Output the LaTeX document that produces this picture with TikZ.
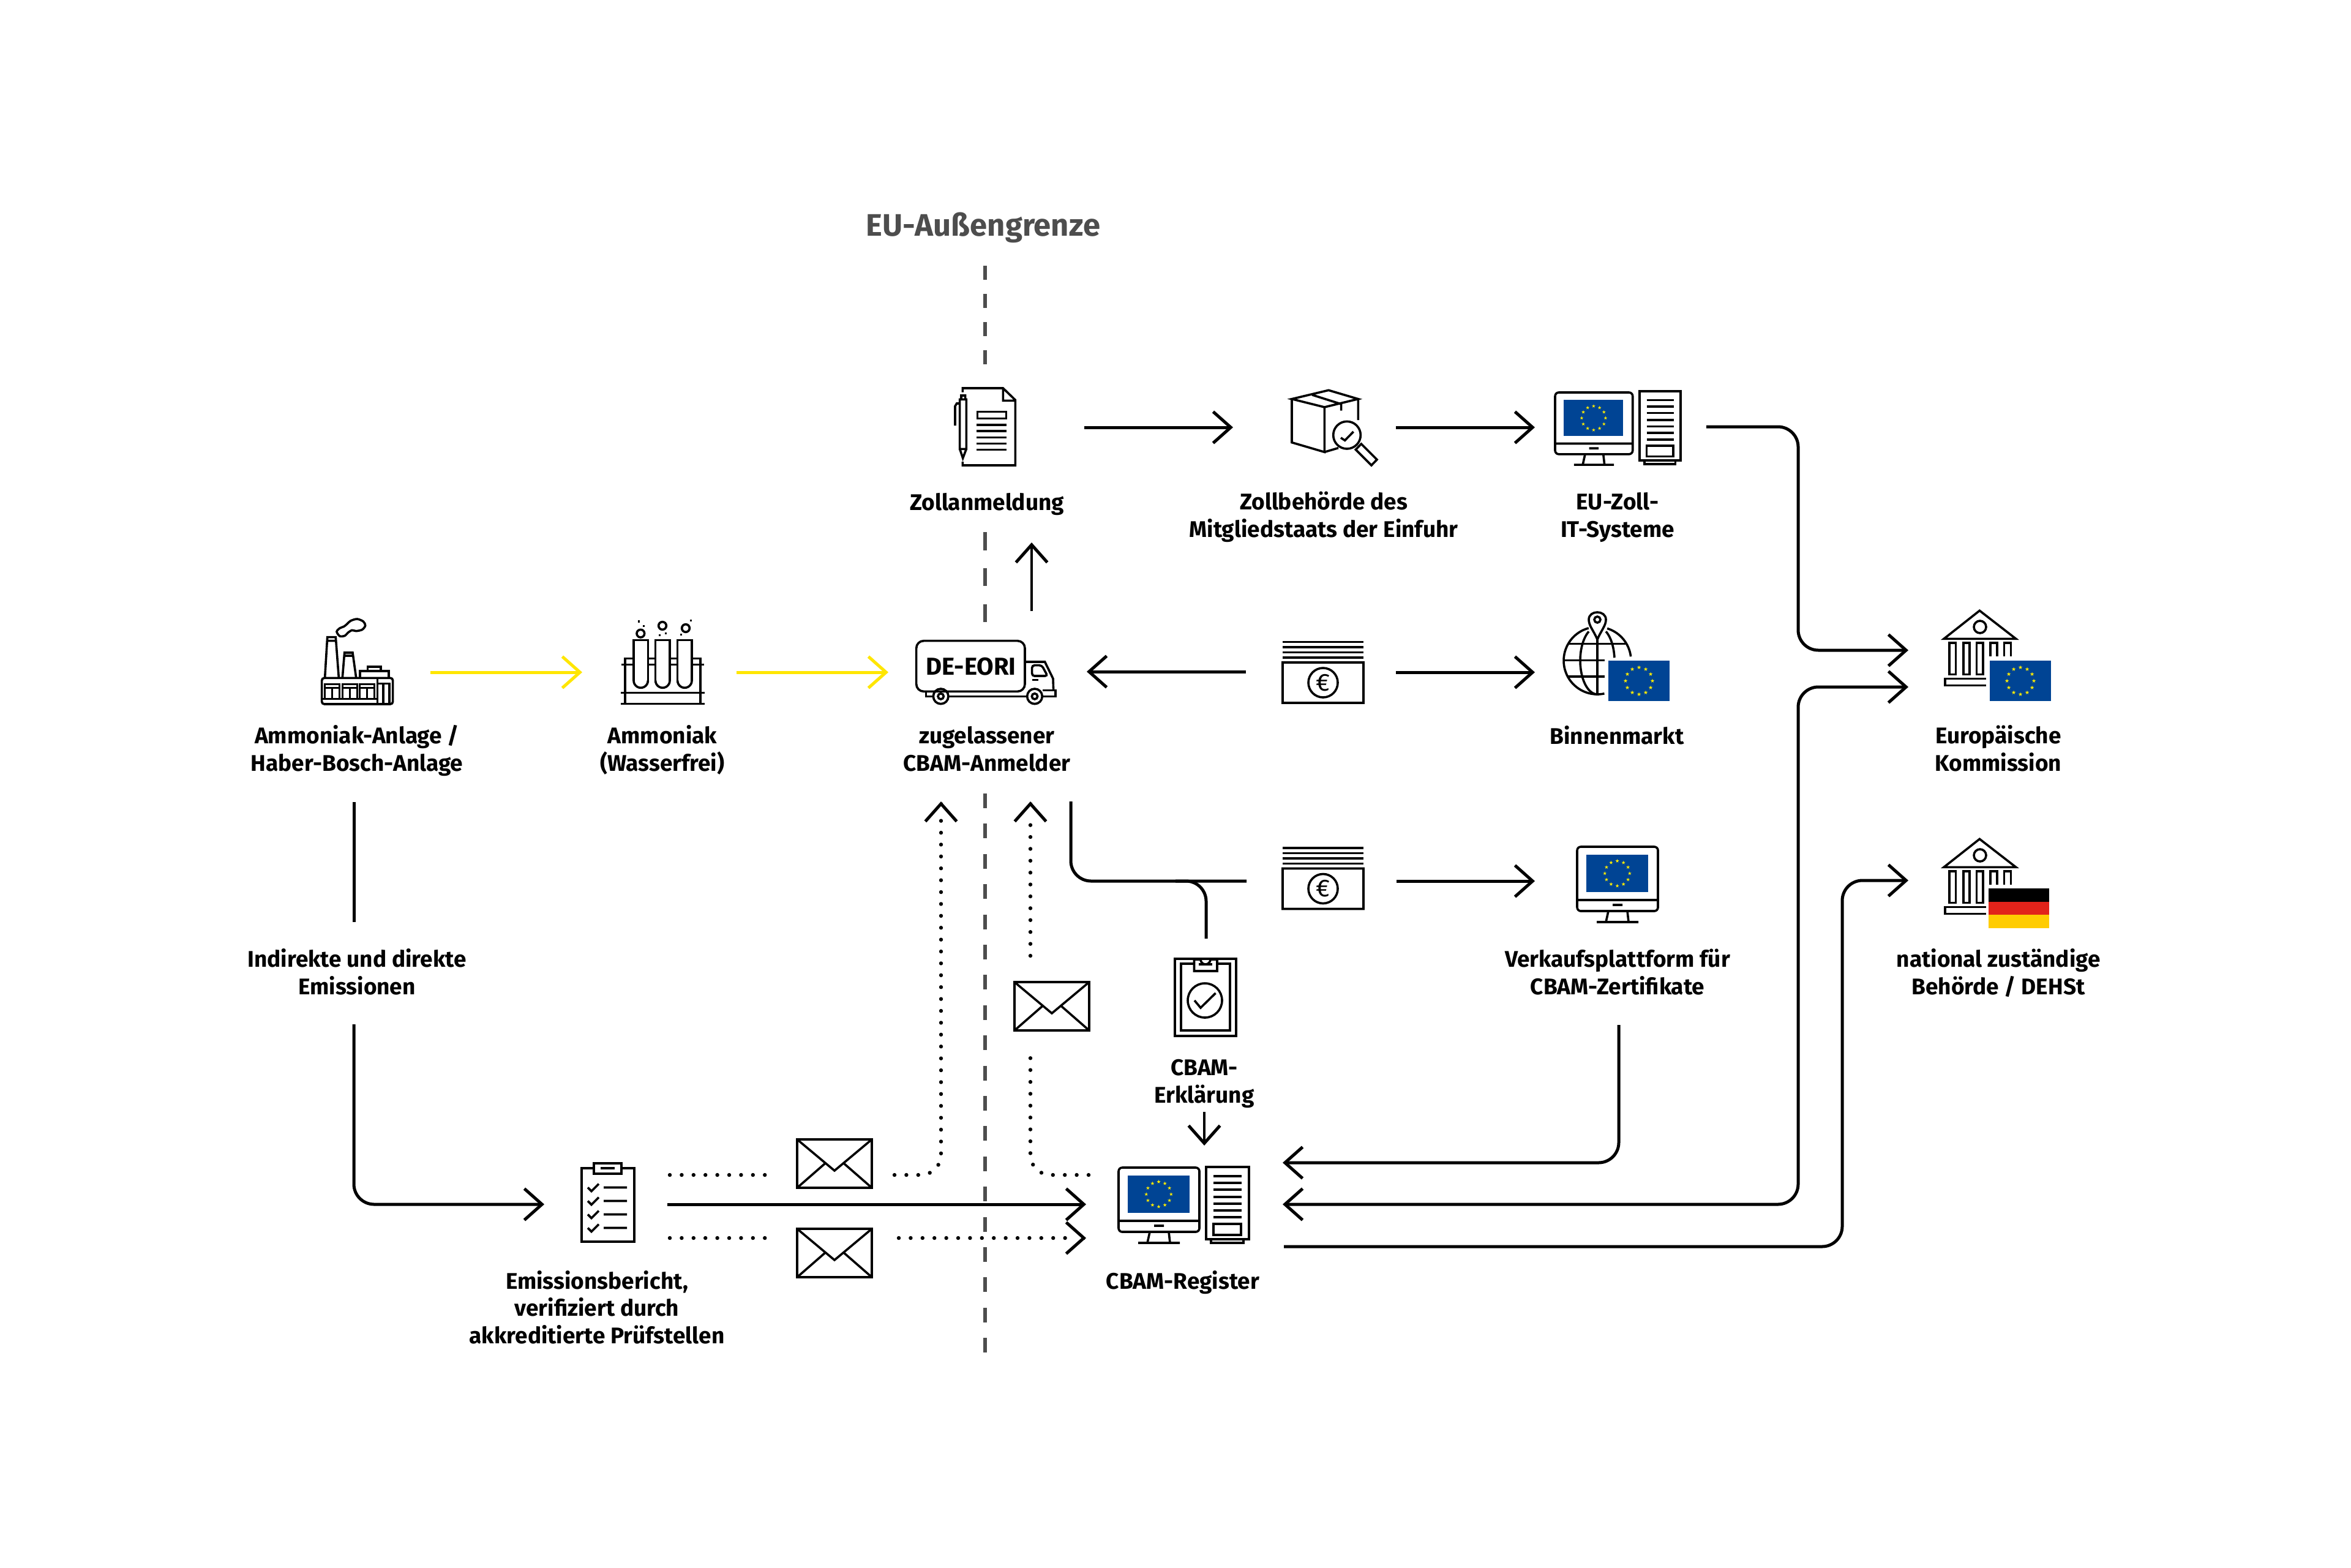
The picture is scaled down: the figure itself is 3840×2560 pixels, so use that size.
\documentclass[tikz,border=0pt]{standalone}
\usepackage{fontspec}
\setmainfont{Fira Sans}
\usetikzlibrary{arrows.meta}
\definecolor{eublue}{HTML}{004494}
\definecolor{euyel}{HTML}{FFED00}
\definecolor{arrowyel}{HTML}{FFE600}
\definecolor{bordergray}{HTML}{4D4D4D}
\definecolor{degold}{HTML}{FFCC00}
\definecolor{dered}{HTML}{E2231A}
\tikzset{
  x=0.25pt,y=-0.25pt,
  lbl/.style={font=\fontsize{9.25}{11.05}\selectfont\bfseries,align=center,anchor=base,inner sep=0pt,text=black},
  ico/.style={draw=black,line width=0.9pt,line join=miter},
  conn/.style={draw=black,line width=1.25pt},
  arr/.style={conn,-{Straight Barb[length=7.2pt,width=12.8pt,line width=1.25pt]}},
  darr/.style={conn,{Straight Barb[length=7.2pt,width=12.8pt,line width=1.25pt]}-{Straight Barb[length=7.2pt,width=12.8pt,line width=1.25pt]}},
  yarr/.style={arr,draw=arrowyel,arrowyel},
  dots/.style={draw=black,line width=1.6pt,line cap=round,dash pattern=on 0pt off 4.85pt},
  rnd/.style={rounded corners=8.25pt},
  border/.style={draw=bordergray,line width=1.5pt},
}
\newcommand\estar[3]{\fill[euyel,shift={({#1},{#2})},scale=#3] (0,-1)--(.224,-.309)--(.951,-.309)--(.363,.118)--(.588,.809)--(0,.382)--(-.588,.809)--(-.363,.118)--(-.951,-.309)--(-.224,-.309)--cycle;}
\newcommand\euflag[4]{%
  \fill[eublue] (#1,#2) rectangle (#3,#4);
  \pgfmathsetmacro\fcx{(#1+#3)/2}\pgfmathsetmacro\fcy{(#2+#4)/2}%
  \pgfmathsetmacro\fr{(#4-#2)*.333}\pgfmathsetmacro\fs{(#4-#2)*.052}%
  \foreach \a in {0,30,...,330}{\estar{\fcx+\fr*cos(\a)}{\fcy+\fr*sin(\a)}{\fs}}%
}
\newcommand\icmonitor[3]{\begin{scope}[shift={(#1,#2)},scale=#3]
  \euflag{15}{13}{116}{74}
  \draw[ico,rounded corners=1.5pt] (0,0) rectangle (132,105);
  \draw[ico] (0,87)--(132,87) (58,95)--(74,95) (51,105)--(47,123) (82,105)--(84,123) (32,123)--(100,123);
\end{scope}}
\newcommand\ictower[3]{\begin{scope}[shift={(#1,#2)},scale=#3]
  \draw[ico] (0,0) rectangle (70,118) (8,118)--(8,124)--(61,124)--(61,118) (12,93) rectangle (57,111);
  \foreach \yy in {15,26,37,49,60,71,82}{\draw[ico] (12,\yy)--(58,\yy);}
\end{scope}}
\newcommand\icenv[2]{\begin{scope}[shift={(#1,#2)}]
  \draw[ico] (0,0) rectangle (122,79) (0,0)--(61,51)--(122,0) (0,79)--(47,38) (122,79)--(75,38);
\end{scope}}
\newcommand\icnote[3]{\begin{scope}[shift={(#1,#2)}]
  \foreach \yy in {0,8.5,17,25.5}{\draw[ico] (0,\yy)--(132,\yy);}
  \draw[ico] (0,33.5) rectangle (132,99.5) (66,66.5) circle[radius=24];
  \node[font=\fontsize{10}{10}\selectfont,inner sep=0pt] (#3) at (66,66.5) {€};
\end{scope}}
\newcommand\icbuild[2]{\begin{scope}[shift={(#1,#2)},scale=.3333]
  \draw[ico] (75,190)--(250,52)--(428,190)--cycle (252,132) circle[radius=30];
  \draw[ico] (102,210) rectangle (133,365) (170,210) rectangle (200,365) (235,210) rectangle (267,365);
  \draw[ico] (302,275)--(302,210)--(335,210)--(335,275) (370,275)--(370,210)--(403,210)--(403,275);
  \draw[ico] (282,385)--(80,385)--(80,418)--(282,418);
\end{scope}}
\begin{document}
\begin{tikzpicture}
\useasboundingbox (0,0) rectangle (3840,2560);
\fill[white] (0,0) rectangle (3840,2560);

% --- EU border
\coordinate (b1a) at (1609,434); \coordinate (b1b) at (1609,597);
\coordinate (b2a) at (1609,869); \coordinate (b2b) at (1609,1016);
\coordinate (b3a) at (1609,1296); \coordinate (b3b) at (1609,2209);
\draw[border,dash pattern=on 5.75pt off 5.75pt] (b1a)--(b1b);
\draw[border,dash pattern=on 7.4pt off 7.3pt] (b2a)--(b2b);
\draw[border,dash pattern=on 6pt off 6.35pt] (b3a)--(b3b);
\node[font=\fontsize{12.7}{14}\selectfont\bfseries,text=bordergray,anchor=base,inner sep=0pt] (grenze) at (1606,385) {EU-Außengrenze};

% --- labels (anchor is the baseline of the last line)
\node[lbl] (lfab) at (583,1259) {Ammoniak-Anlage /\\Haber-Bosch-Anlage};
\node[lbl] (lamm) at (1082,1259) {Ammoniak\\(Wasserfrei)};
\node[lbl] (lanm) at (1612,1259) {zugelassener\\CBAM-Anmelder};
\node[lbl] (lzoll) at (1612,833) {Zollanmeldung};
\node[lbl] (lbeh) at (2162,877) {Zollbehörde des\\Mitgliedstaats der Einfuhr};
\node[lbl] (lit) at (2642,877) {EU-Zoll-\\IT-Systeme};
\node[lbl] (lbin) at (2641,1215) {Binnenmarkt};
\node[lbl] (lkom) at (3264,1259) {Europäische\\Kommission};
\node[lbl] (lver) at (2642,1624) {Verkaufsplattform für\\CBAM-Zertifikate};
\node[lbl] (lnat) at (3264,1624) {national zuständige\\Behörde / DEHSt};
\node[lbl] (lind) at (583,1624) {Indirekte und direkte\\Emissionen};
\node[lbl] (lerk) at (1967,1801) {CBAM-\\Erklärung};
\node[lbl] (lreg) at (1932,2105) {CBAM-Register};
\node[lbl] (lemi) at (975,2194) {Emissionsbericht,\\verifiziert durch\\akkreditierte Prüfstellen};

% --- factory
\begin{scope}[shift={(500,990)},scale=.3333]
  \draw[ico,rounded corners=1pt] (77,352) rectangle (425,480);
  \draw[ico] (77,455)--(350,455) (350,352)--(350,480) (350,380)--(408,380)--(408,480) (378,380)--(378,480);
  \foreach \wx in {92,178,262}{
    \draw[ico] (\wx,455)--(\wx,382)--(\wx+72,382)--(\wx+72,455) (\wx,400)--(\wx+72,400) (\wx+36,400)--(\wx+36,455);
  }
  \draw[ico] (92,350)--(104,152)--(145,152)--(160,350) (104,170)--(145,170);
  \draw[ico] (178,350)--(188,228)--(228,228)--(245,350) (188,243)--(228,243);
  \draw[ico] (264,350)--(264,318)--(405,318)--(405,350) (302,318)--(302,297)--(366,297)--(366,318);
  \draw[ico] plot[smooth cycle] coordinates {(150,125)(165,108)(185,100)(200,88)(218,72)(250,63)(280,75)(290,95)(275,115)(245,122)(225,118)(205,130)(190,145)(165,147)};
\end{scope}

% --- test tubes
\begin{scope}[shift={(990,990)},scale=.3333]
  \foreach \tx in {135,242,350}{
    \draw[ico] plot[domain=180:0,samples=15] ({\tx+35+35*cos(\x)},{365+35*sin(\x)});
    \draw[ico] (\tx,365)--(\tx,167)--(\tx+70,167)--(\tx+70,365);
  }
  \draw[ico] (75,287)--(135,287) (205,287)--(242,287) (312,287)--(350,287) (420,287)--(480,287);
  \draw[ico] (135,257)--(93,257)--(93,480) (205,257)--(242,257) (312,257)--(350,257) (420,257)--(462,257)--(462,480);
  \draw[ico] (72,424)--(482,424) (72,479)--(482,479);
  \draw[ico] (169,134) circle[radius=19] (276,96) circle[radius=19] (390,108) circle[radius=19];
  \foreach \dx/\dy in {160/75,185/97,262/142,292/133,368/140,416/71}{\fill (\dx-5,\dy-5) rectangle (\dx+5,\dy+5);}
\end{scope}

% --- truck
\begin{scope}[shift={(1480,1020)},scale=.3333]
  \draw[ico,rounded corners=3pt] (50,80) rectangle (582,328);
  \draw[ico] (97,328)--(97,352)--(135,352) (208,352)--(595,352) (668,352)--(732,352)--(732,322)--(668,322);
  \draw[ico] (585,183)--(680,183)--(720,265)--(722,322);
  \draw[ico,rounded corners=1pt] (617,200)--(665,200)--(693,252)--(617,252)--cycle;
  \draw[ico] (618,271)--(648,271);
  \draw[ico] (170,352) circle[radius=37] (170,352) circle[radius=14] (630,352) circle[radius=37] (630,352) circle[radius=14];
\end{scope}
\node[lbl,font=\fontsize{10}{11}\selectfont\bfseries] (eori) at (1586,1102) {DE-EORI};

% --- document
\begin{scope}[shift={(1540,620)},scale=.3333]
  \draw[ico] (97,62)--(97,42)--(295,42)--(355,100)--(355,420)--(97,420)--(97,402) (295,42)--(295,103)--(355,103);
  \draw[ico] (83,97) rectangle (115,340) (83,340)--(98,385)--(115,340) (90,97)--(90,78)--(110,78)--(110,97) (60,225)--(60,130)--(68,117)--(83,117);
  \draw[ico] (170,157) rectangle (310,190);
  \foreach \yy in {222,252,283,313,343}{\draw[ico] (165,\yy)--(313,\yy);}
\end{scope}

% --- parcel with lens
\begin{scope}[shift={(2100,630)},scale=.3333]
  \draw[ico] (30,65)--(210,22)--(355,65)--(190,105)--cycle (30,65)--(30,278)--(190,325)--(190,105) (190,325)--(258,305) (355,65)--(355,168) (130,45)--(272,90)--(272,122);
  \draw[ico] (300,242) circle[radius=67] (270,255)--(290,268)--(332,225);
  \draw[ico] (370,285)--(447,362)--(420,390)--(343,313)--cycle;
\end{scope}

\icmonitor{2540}{641}{.96}
\ictower{2678}{639}{.96}
\icmonitor{2576}{1383}{1}
\icmonitor{1827}{1907}{1}
\ictower{1970}{1906}{1}
\icnote{2095}{1048.5}{eur1}
\icnote{2095}{1385}{eur2}
\icenv{1302}{1861}
\icenv{1302}{2007}
\icenv{1657}{1604}

% --- globe
\draw[ico] plot[domain=78:255,samples=40] ({2609+55*cos(\x)},{1079+55*sin(\x)});
\draw[ico] plot[domain=287:353,samples=20] ({2609+55*cos(\x)},{1079+55*sin(\x)});
\draw[ico] plot[domain=90:240,samples=30] ({2609+28*cos(\x)},{1079+55*sin(\x)});
\draw[ico] plot[domain=300:355,samples=15] ({2609+28*cos(\x)},{1079+55*sin(\x)});
\draw[ico] (2609,1045)--(2609,1134) (2563,1051.5)--(2655,1051.5) (2555,1078.5)--(2621,1078.5) (2560,1105)--(2621,1105);
\fill[white] (2609,1046)--(2595,1014)--(2623,1014)--cycle;
\draw[ico] (2609,1044.5) .. controls (2603,1030) and (2595,1022) .. (2595,1012) .. controls (2595,996) and (2623,996) .. (2623,1012) .. controls (2623,1022) and (2615,1030) .. (2609,1044.5) -- cycle;
\draw[ico] (2609,1012) circle[radius=5];
\euflag{2627}{1079}{2727}{1145}

% --- buildings
\icbuild{3150}{980}
\euflag{3250}{1079}{3350}{1145}
\icbuild{3150}{1353}
\fill[black] (3248,1451) rectangle (3347,1473);
\fill[dered] (3248,1473) rectangle (3347,1494);
\fill[degold] (3248,1494) rectangle (3347,1516);

% --- emission report clipboard
\draw[ico] (950,1908) rectangle (1036,2028);
\draw[ico,fill=white] (970,1900) rectangle (1015,1917);
\draw[ico] (981,1908)--(1004,1908);
\foreach \yy in {1939.5,1961.5,1983.5,2005.5}{
  \draw[ico] (960,\yy)--(966,\yy+6)--(978,\yy-6) (986,\yy)--(1024,\yy);
}

% --- declaration clipboard
\draw[ico] (1919,1566) rectangle (2019,1692);
\draw[ico] (1950,1574)--(1929,1574)--(1929,1683)--(2009,1683)--(2009,1574)--(1988,1574);
\draw[ico,fill=white] (1950.5,1586)--(1950.5,1567)--(1961,1567) arc[start angle=180,end angle=0,radius=8] --(1988,1567)--(1988,1586)--cycle;
\draw[ico] (1958,1575)--(1980,1575);
\draw[ico] (1968,1634) circle[radius=28] (1951,1634)--(1961,1646)--(1985.5,1622);

% --- connector end points
\foreach \n/\cx/\cy in {
  y1a/703/1098, y1b/951/1098, y2a/1203/1098, y2b/1451/1098,
  za/1771/698, zb/2014/698, zc/2280/698, zd/2507/698,
  ea/2787/697, eb/2937/697, ec/2937/1062, ed/3117/1062,
  fa/2095/1967, fb/2937/1967, fc/2937/1122, fd/3117/1122,
  ga/2644/1674, gb/2644/1899, gc/2095/1899,
  ha/2097/2036, hb/3009/2036, hc/3009/1438, hd/3117/1438,
  ia/2035/1097, ib/1775/1097, ic/2280/1098, id/2507/1098,
  ja/1749/1309, jb/1749/1439, jc/2036/1439, jd/1920/1439, je/1970/1439, jf/1970/1533,
  ka/2281/1439, kb/2507/1439,
  la/1685/998, lb/1685/886,
  ma/1967/1816, mb/1967/1871,
  na/578/1310, nb/578/1506, nc/578/1673, nd/578/1967, ne/889/1967,
  oa/1090/1967, ob/1774/1967,
  pa/1094/1919, pb/1253/1919, pc/1461/1919, pd/1537/1919, pf/1537/1330, pg/1537/1311, pe/1537/1309,
  qa/1778/1919, qb/1683/1919, qc/1683/1724, qd/1683/1561, qf/1683/1330, qg/1683/1311, qe/1683/1309,
  ra/1094/2022, rb/1266/2022, rc/1468/2022, rf/1756/2022, rg/1772/2022, rd/1774/2022%
}{\coordinate (\n) at (\cx,\cy);}

% --- connectors
\draw[yarr] (y1a)--(y1b);
\draw[yarr] (y2a)--(y2b);
\draw[arr] (za)--(zb);
\draw[arr] (zc)--(zd);
\draw[arr,rnd] (ea)--(eb)--(ec)--(ed);
\draw[darr,rnd] (fa)--(fb)--(fc)--(fd);
\draw[arr,rnd] (ga)--(gb)--(gc);
\draw[arr,rnd] (ha)--(hb)--(hc)--(hd);
\draw[arr] (ia)--(ib);
\draw[arr] (ic)--(id);
\draw[conn,rnd] (ja)--(jb)--(jc);
\draw[conn,rnd] (jd)--(je)--(jf);
\draw[arr] (ka)--(kb);
\draw[arr,line width=1pt] (la)--(lb);
\draw[arr,line width=1pt] (ma)--(mb);
\draw[conn] (na)--(nb);
\draw[arr,rnd] (nc)--(nd)--(ne);
\draw[arr] (oa)--(ob);
\draw[dots] (pa)--(pb);
\draw[dots,rnd] (pc)--(pd)--(pf);
\draw[arr] (pg)--(pe);
\draw[dots,rnd] (qa)--(qb)--(qc);
\draw[dots] (qd)--(qf);
\draw[arr] (qg)--(qe);
\draw[dots] (ra)--(rb);
\draw[dots] (rc)--(rf);
\draw[arr] (rg)--(rd);
\end{tikzpicture}
\end{document}
